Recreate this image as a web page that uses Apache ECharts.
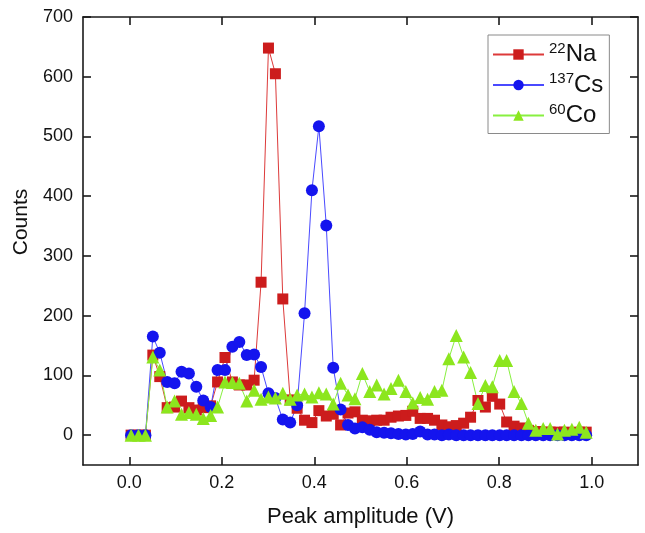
<!DOCTYPE html>
<html>
<head>
<meta charset="utf-8">
<script src="https://cdn.jsdelivr.net/npm/echarts@6/dist/echarts.min.js"></script>
<style>
html,body{margin:0;padding:0;background:#fff;}
#chart{width:645px;height:533px;}
</style>
</head>
<body>
<div id="chart"></div>
<script>
// Peak amplitude (V) of each bin
const xValues = [0.004,0.020,0.035,0.051,0.066,0.082,0.098,0.113,0.129,0.145,
  0.160,0.176,0.191,0.207,0.223,0.238,0.254,0.270,0.285,0.301,
  0.316,0.332,0.348,0.363,0.379,0.395,0.410,0.426,0.441,0.457,
  0.473,0.488,0.504,0.520,0.535,0.551,0.566,0.582,0.598,0.613,
  0.629,0.645,0.660,0.676,0.691,0.707,0.723,0.738,0.754,0.770,
  0.785,0.801,0.816,0.832,0.848,0.863,0.879,0.895,0.910,0.926,
  0.941,0.957,0.973,0.988];

const naCounts = [0,0,0,134,98,46,47,57,46,42,
  46,49,89,130,89,84,84,92,256,648,
  605,228,59,45,25,21,41,32,35,17,
  37,39,25,24,25,25,30,32,33,40,
  28,28,25,17,14,16,20,30,58,47,
  65,52,22,15,12,8,6,5,5,5,
  5,4,5,5];

const csCounts = [0,0,0,165,138,89,87,106,103,81,
  58,47,109,109,148,156,134,135,114,70,
  62,26,21,50,204,410,517,351,113,43,
  17,11,13,9,5,4,3,2,1,2,
  6,1,1,0,1,0,0,0,0,0,
  0,0,0,0,0,0,0,0,0,0,
  0,0,0,0];

const coCounts = [0,0,0,131,109,47,57,35,38,35,
  28,33,47,89,88,87,57,75,60,64,
  62,70,60,67,69,64,71,69,52,87,
  67,61,103,73,84,69,78,92,73,54,
  63,60,73,75,128,167,131,105,53,83,
  81,125,125,73,53,20,8,11,11,2,
  8,10,13,5];

const isotopes = ['Na', 'Cs', 'Co'];
const massNumbers = ['22', '137', '60'];
const xTicks = [0, 0.2, 0.4, 0.6, 0.8, 1.0];
const yTicks = [0, 100, 200, 300, 400, 500, 600, 700];

const chart = echarts.init(document.getElementById('chart'), null, {renderer: 'canvas'});
const font = 'Liberation Sans, Arial, sans-serif';
const axisColor = '#1a1a1a';

function pairs(ys) { return xValues.map((x, i) => [x, ys[i]]); }

const styles = [
  {symbol: 'rect', size: 11, marker: '#cc1c1c', line: '#dd3a3a'},
  {symbol: 'circle', size: 12, marker: '#1414ee', line: '#4a4aff'},
  {symbol: 'triangle', size: 13, marker: '#8ce61e', line: '#88f040'}
];
const datasets = [naCounts, csCounts, coCounts];

const series = isotopes.map((name, k) => ({
  name: name,
  type: 'line',
  data: pairs(datasets[k]),
  symbol: styles[k].symbol,
  symbolSize: styles[k].size,
  showAllSymbol: true,
  animation: false,
  lineStyle: {color: styles[k].line, width: 1},
  itemStyle: {color: styles[k].marker},
  emphasis: {disabled: true}
}));

const frameAxisCommon = {
  axisLine: {show: true, onZero: false, lineStyle: {color: axisColor, width: 1.6}},
  splitLine: {show: false}
};

const option = {
  backgroundColor: '#ffffff',
  animation: false,
  grid: {left: 83, top: 17, right: 7, bottom: 68, containLabel: false},
  legend: {
    left: 488, top: 35,
    orient: 'vertical',
    data: isotopes,
    itemWidth: 51, itemHeight: 13, itemGap: 5,
    padding: [6, 6, 6, 4],
    borderColor: '#8a8a8a', borderWidth: 1,
    backgroundColor: '#ffffff',
    formatter: function (name) {
      const i = isotopes.indexOf(name);
      return '{sup|' + massNumbers[i] + '}{b|' + name + '}';
    },
    textStyle: {
      color: '#111',
      rich: {
        sup: {fontSize: 15, fontFamily: font, verticalAlign: 'top', lineHeight: 27, color: '#111'},
        b: {fontSize: 24, fontFamily: font, lineHeight: 27, color: '#111'}
      }
    }
  },
  xAxis: [
    Object.assign({
      type: 'value', min: -0.1, max: 1.1, position: 'bottom',
      name: 'Peak amplitude (V)', nameLocation: 'middle', nameGap: 41,
      nameTextStyle: {fontSize: 22, fontFamily: font, color: '#111'},
      axisTick: {show: true, inside: true, length: 8, customValues: xTicks, lineStyle: {color: axisColor, width: 1.6}},
      axisLabel: {show: true, customValues: xTicks, margin: 9, fontSize: 18, fontFamily: font, color: '#111',
        formatter: v => v.toFixed(1)}
    }, frameAxisCommon),
    Object.assign({
      type: 'value', min: -0.1, max: 1.1, position: 'top',
      axisTick: {show: true, inside: true, length: 8, customValues: xTicks, lineStyle: {color: axisColor, width: 1.6}},
      axisLabel: {show: false}
    }, frameAxisCommon)
  ],
  yAxis: [
    Object.assign({
      type: 'value', min: -50, max: 700, position: 'left',
      name: 'Counts', nameLocation: 'middle', nameGap: 49,
      nameTextStyle: {fontSize: 21, fontFamily: font, color: '#111', padding: [0, 0, 0, 38]},
      axisTick: {show: true, inside: true, length: 8, customValues: yTicks, lineStyle: {color: axisColor, width: 1.6}},
      axisLabel: {show: true, customValues: yTicks, margin: 10, fontSize: 18, fontFamily: font, color: '#111'}
    }, frameAxisCommon),
    Object.assign({
      type: 'value', min: -50, max: 700, position: 'right',
      axisTick: {show: true, inside: true, length: 8, customValues: yTicks, lineStyle: {color: axisColor, width: 1.6}},
      axisLabel: {show: false}
    }, frameAxisCommon)
  ],
  series: series
};

chart.setOption(option);
</script>
</body>
</html>
